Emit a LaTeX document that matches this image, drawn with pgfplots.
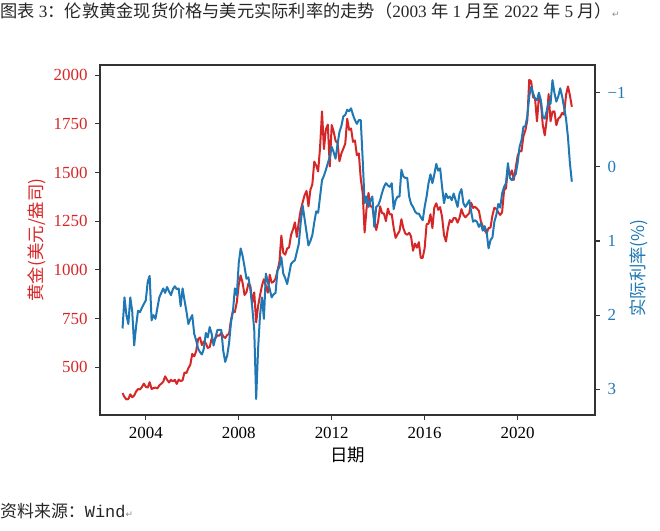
\documentclass[border=0pt]{standalone}
\usepackage{fontspec}
\setmainfont{Liberation Serif}
\setmonofont{Liberation Mono}
\newfontfamily\cjk{Noto Sans CJK SC}
\newfontfamily\dejavu{DejaVu Sans}
\usepackage{pgfplots}
\usepackage{pgfplotstable}
\pgfplotsset{compat=1.18}
\definecolor{tred}{HTML}{D62728}
\definecolor{tblue}{HTML}{1F77B4}

% monthly (month-end) values, Jan 2003 ... May 2022
\pgfplotstableread{
gold rate
367.5 2.18
347.5 1.76
334.9 2.00
336.8 2.12
361.4 1.76
346.0 1.95
354.8 2.41
375.6 2.15
388.0 1.94
386.3 1.96
398.4 1.90
416.3 1.85
399.8 1.80
395.9 1.55
423.7 1.47
388.5 2.07
393.3 2.00
395.8 2.05
391.4 1.90
407.3 1.76
415.7 1.70
425.6 1.64
453.4 1.70
435.6 1.62
422.2 1.68
435.5 1.73
427.5 1.65
435.7 1.61
414.5 1.65
437.1 1.64
429.0 1.88
433.3 1.64
473.3 1.80
470.8 1.95
495.7 2.12
513.0 2.05
568.8 2.00
556.0 2.25
582.0 2.34
644.0 2.45
653.0 2.50
613.5 2.53
632.5 2.45
623.5 2.24
599.3 2.30
603.8 2.16
646.7 2.25
632.0 2.41
650.5 2.30
664.2 2.20
661.8 2.20
677.0 2.20
659.1 2.48
650.5 2.63
665.5 2.55
672.0 2.38
743.0 2.10
789.5 1.95
783.5 1.64
833.8 1.73
923.3 1.30
971.5 1.10
933.5 1.20
871.0 1.35
885.8 1.51
930.3 1.49
918.0 1.65
833.0 1.90
884.5 2.20
730.8 3.13
814.5 2.45
869.8 2.00
919.5 1.76
952.0 2.05
916.5 1.44
883.3 1.55
975.5 1.65
934.5 1.76
939.0 1.72
955.5 1.70
995.8 1.40
1040.0 1.35
1175.8 1.22
1087.5 1.44
1078.5 1.50
1109.5 1.58
1115.5 1.45
1179.3 1.31
1207.5 1.28
1244.0 1.26
1169.0 1.15
1246.0 1.04
1307.0 0.75
1346.8 0.52
1383.5 0.70
1405.5 0.88
1327.0 1.06
1411.0 1.00
1439.0 0.92
1556.0 0.75
1536.5 0.60
1505.5 0.62
1628.5 0.40
1813.5 0.18
1620.0 0.12
1722.0 0.04
1746.0 -0.05
1531.0 -0.13
1744.0 -0.27
1711.0 -0.20
1662.5 -0.11
1651.3 -0.30
1558.0 -0.47
1598.5 -0.55
1622.0 -0.68
1648.5 -0.70
1776.0 -0.77
1719.0 -0.75
1726.0 -0.79
1657.5 -0.70
1664.8 -0.63
1588.5 -0.58
1598.3 -0.63
1469.0 -0.63
1394.5 -0.10
1192.0 0.49
1314.5 0.40
1394.8 0.54
1326.5 0.45
1324.0 0.40
1253.0 0.81
1204.5 0.54
1251.0 0.52
1326.5 0.45
1291.8 0.35
1288.5 0.27
1250.5 0.22
1315.0 0.25
1285.3 0.27
1285.8 0.22
1216.5 0.57
1164.3 0.45
1182.8 0.40
1199.3 0.40
1260.3 0.04
1214.0 0.13
1187.0 0.15
1180.3 0.15
1190.5 0.40
1171.0 0.50
1098.4 0.54
1135.0 0.60
1114.0 0.63
1142.3 0.63
1061.5 0.68
1062.3 0.72
1111.8 0.54
1234.9 0.40
1237.0 0.22
1285.7 0.10
1214.7 0.22
1320.8 0.10
1342.0 -0.04
1308.4 0.05
1322.5 0.02
1272.0 0.27
1178.1 0.49
1145.9 0.36
1212.8 0.42
1255.6 0.40
1244.9 0.45
1266.5 0.36
1266.2 0.45
1242.3 0.54
1267.6 0.36
1311.8 0.30
1283.1 0.49
1270.2 0.54
1280.2 0.50
1291.0 0.45
1345.2 0.60
1318.4 0.74
1323.9 0.72
1315.1 0.74
1303.0 0.81
1250.5 0.76
1224.0 0.86
1203.9 0.80
1187.3 0.88
1214.9 1.10
1217.6 0.99
1279.0 0.95
1319.2 0.74
1313.3 0.65
1295.4 0.50
1282.3 0.55
1295.6 0.36
1409.0 0.27
1419.6 0.22
1525.1 -0.05
1485.3 0.15
1510.9 0.18
1461.9 0.13
1523.0 0.10
1585.2 -0.05
1609.9 -0.27
1608.9 -0.36
1686.9 -0.54
1715.9 -0.55
1768.1 -0.68
1975.9 -0.95
1968.0 -1.08
1886.9 -0.99
1879.9 -0.92
1762.6 -0.90
1887.6 -1.00
1863.0 -0.90
1743.3 -0.68
1691.1 -0.65
1767.7 -0.75
1902.7 -0.88
1763.2 -0.85
1812.5 -1.17
1813.9 -1.00
1742.8 -0.88
1776.1 -0.95
1785.4 -1.06
1805.9 -0.95
1797.1 -0.80
1897.9 -0.65
1942.2 -0.40
1896.3 -0.05
1837.4 0.20
}\data

\begin{document}
\begin{tikzpicture}
\useasboundingbox (0,0) rectangle (660bp,531bp);
\pgfplotsset{
  common/.style={
    at={(100bp,116bp)}, anchor=south west,
    scale only axis, width=495bp, height=350bp,
    xmin=2002.03, xmax=2023.33,
    tick align=outside, major tick length=5bp,
    /pgf/number format/1000 sep={},
    /pgf/number format/assume math mode=true,
    tick label style={font=\fontsize{17}{17}\selectfont},
    axis line style={black!80, line width=1.1bp},
    every tick/.style={black!80, line width=1.1bp},
    label style={font=\fontsize{17.5}{17.5}\selectfont},
  }
}
\begin{axis}[common,
  ymin=255, ymax=2052,
  xtick={2004,2008,2012,2016,2020},
  ytick={500,750,1000,1250,1500,1750,2000},
  xtick pos=bottom, ytick pos=left,
  yticklabel style={text=tred, xshift=-4bp},
  xticklabel style={yshift=-4bp},
  xlabel={\cjk 日期},
  xlabel style={at={(axis description cs:0.5,-0.115)}, anchor=center},
  ylabel={\cjk 黄金(美元/盎司)},
  ylabel style={at={(axis description cs:-0.127,0.5)}, anchor=center, text=tred},
]
\addplot[tred, line width=2bp, line join=round] table[x expr={2003+\coordindex/12}, y=gold] {\data};
\end{axis}
\begin{axis}[common,
  ymin=-1.374, ymax=3.347, y dir=reverse,
  xtick=\empty,
  ytick={-1,0,1,2,3}, yticklabels={−1,0,1,2,3},
  ytick pos=right, yticklabel pos=right,
  yticklabel style={text=tblue, xshift=4bp},
  ylabel={\cjk 实际利率(\%)},
  ylabel style={at={(axis description cs:1.089,0.42)}, anchor=center, text=tblue},
]
\addplot[tblue, line width=2bp, line join=round] table[x expr={2003+\coordindex/12}, y=rate] {\data};
\end{axis}
\node[anchor=base west, inner sep=0pt, text=black!85, font=\fontsize{17.3}{17.3}\selectfont] at (0bp,513bp)
  {{\cjk 图表} 3{\cjk ：伦敦黄金现货价格与美元实际利率的走势（}2003 {\cjk 年} 1 {\cjk 月至} 2022 {\cjk 年} 5 {\cjk 月）}{\dejavu\color{black!45}\fontsize{9}{9}\selectfont ↵}};
\node[anchor=base west, inner sep=0pt, text=black!85, font=\fontsize{17}{17}\selectfont] at (0bp,14bp)
  {{\cjk 资料来源：}{\ttfamily Wind}{\dejavu\color{black!45}\fontsize{9}{9}\selectfont ↵}};
\end{tikzpicture}
\end{document}
